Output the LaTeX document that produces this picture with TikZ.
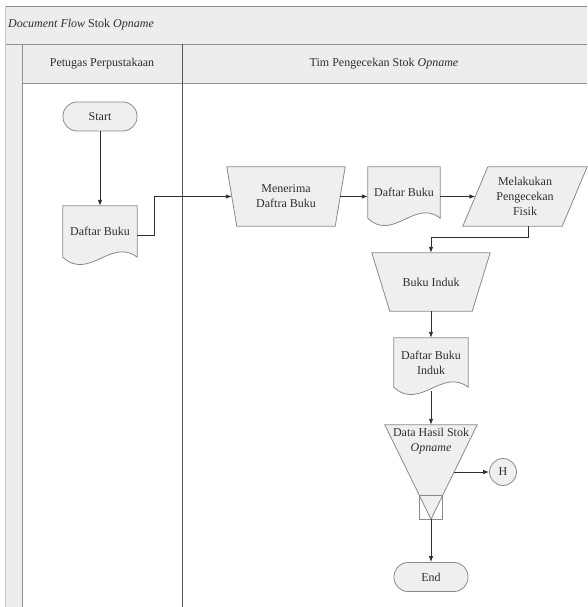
\documentclass[tikz,border=0pt]{standalone}
\usepackage{fontspec}
\setmainfont{Liberation Serif}
\usetikzlibrary{arrows.meta,backgrounds,calc}
\definecolor{shfill}{HTML}{EFEFEF}
\definecolor{shline}{HTML}{8A8A8A}
\definecolor{band}{HTML}{EDEDED}
\definecolor{frameline}{HTML}{8F8F8F}
\definecolor{divline}{HTML}{555555}
\definecolor{ink}{HTML}{2E2E2E}
\tikzset{
  lbl/.style={font=\fontsize{12}{15}\selectfont, text=ink, align=center, inner sep=0pt},
  area/.style={lbl, rectangle},
  shp/.style={draw=shline, fill=shfill, line width=0.8pt},
  term/.style={lbl, rectangle, draw=shline, fill=shfill, line width=0.8pt, rounded corners=14pt, minimum width=74pt, minimum height=29pt},
  conncircle/.style={lbl, circle, draw=shline, fill=shfill, line width=0.8pt, minimum size=27pt},
  conn/.style={draw=ink, line width=0.9pt, -{Latex[length=6pt,width=4.5pt]}},
  fline/.style={draw=frameline, line width=0.8pt},
  dline/.style={draw=divline, line width=0.9pt}
}
\newcommand{\docoutline}[2]{%
  \draw[shp] (#1.north west) -- (#1.south west)
    .. controls ([xshift=#2, yshift=-24pt]#1.south west) and ([xshift=-#2, yshift=20pt]#1.south east) .. (#1.south east)
    -- (#1.north east) -- cycle;}
\begin{document}
\begin{tikzpicture}[x=1pt,y=-1pt]
\useasboundingbox (0,0) rectangle (587,607);

% titles
\node[lbl, anchor=west] (title) at (8,25) {\textit{Document Flow} Stok \textit{Opname}};
\node[lbl] (lane1) at (102,64) {Petugas Perpustakaan};
\node[lbl] (lane2) at (384,64) {Tim Pengecekan Stok \textit{Opname}};

% nodes
\node[term] (start) at (100,116.5) {Start};
\node[area, minimum width=74pt, minimum height=51pt] (doc1) at (100,231.5) {Daftar Buku};
\node[area, minimum width=118pt, minimum height=59pt] (men) at (286,196.5) {Menerima\\Daftra Buku};
\node[area, minimum width=72pt, minimum height=51pt] (doc2) at (404,192.5) {Daftar Buku};
\node[area, minimum width=124pt, minimum height=59pt] (mel) at (525,196.5) {Melakukan\\Pengecekan\\Fisik};
\node[area, minimum width=118pt, minimum height=58pt] (bi) at (431,282) {Buku Induk};
\node[area, minimum width=74pt, minimum height=49pt] (doc3) at (431,362.5) {Daftar Buku\\Induk};
\node[area, minimum width=92pt, minimum height=94pt] (tri) at (431,472) {};
\node[lbl, anchor=north] (tritxt) at ([yshift=-3pt]tri.north) {Data Hasil Stok\\\textit{Opname}};
\node[conncircle] (h) at (503,472) {H};
\node[term] (end) at (431,577) {End};

\begin{scope}[on background layer]
  \fill[band] (5,6) rectangle (587,44);
  \fill[band] (5,44) rectangle (22,607);
  \fill[band] (22,44) rectangle (587,83);
  \draw[fline] (5,6) -- (587,6);
  \draw[fline] (5,44) -- (587,44);
  \draw[fline] (22,83) -- (587,83);
  \draw[draw=frameline!50, line width=0.6pt] (5,6) -- (5,607);
  \draw[fline] (22,44) -- (22,607);
  \draw[dline] (182,44) -- (182,607);
  % shapes
  \docoutline{doc1}{26pt}
  \docoutline{doc2}{25pt}
  \docoutline{doc3}{26pt}
  \draw[shp] (men.north west) -- (men.north east) -- ([xshift=-10pt]men.south east) -- ([xshift=10pt]men.south west) -- cycle;
  \draw[shp] (bi.north west) -- (bi.north east) -- ([xshift=-18pt]bi.south east) -- ([xshift=18pt]bi.south west) -- cycle;
  \draw[shp] ([xshift=25pt]mel.north west) -- (mel.north east) -- ([xshift=-25pt]mel.south east) -- (mel.south west) -- cycle;
  \draw[shp] (tri.north west) -- (tri.north east) -- (tri.south) -- cycle;
  \draw[draw=shline, line width=0.8pt] ([xshift=-11.5pt,yshift=24pt]tri.south) rectangle ([xshift=11.5pt]tri.south);
\end{scope}

% connectors
\draw[conn] (start.south) -- (doc1.north);
\draw[conn] ([yshift=-3.5pt]doc1.east) -- ++(17,0) |- ([xshift=5pt]men.west);
\coordinate (menR) at ([xshift=-5pt]men.east);
\draw[conn] (menR) -- (menR -| doc2.west);
\draw[conn] (menR -| doc2.east) -- ([xshift=12.5pt]mel.west);
\draw[conn] ([xshift=3pt]mel.south) -- ++(0,11) -| (bi.north);
\draw[conn] (bi.south) -- (doc3.north);
\draw[conn] ([yshift=-4pt]doc3.south) -- (tri.north);
\draw[conn] ([xshift=-23pt]tri.east) -- (h.west);
\draw[conn] (tri.south) -- (end.north);
\end{tikzpicture}
\end{document}
